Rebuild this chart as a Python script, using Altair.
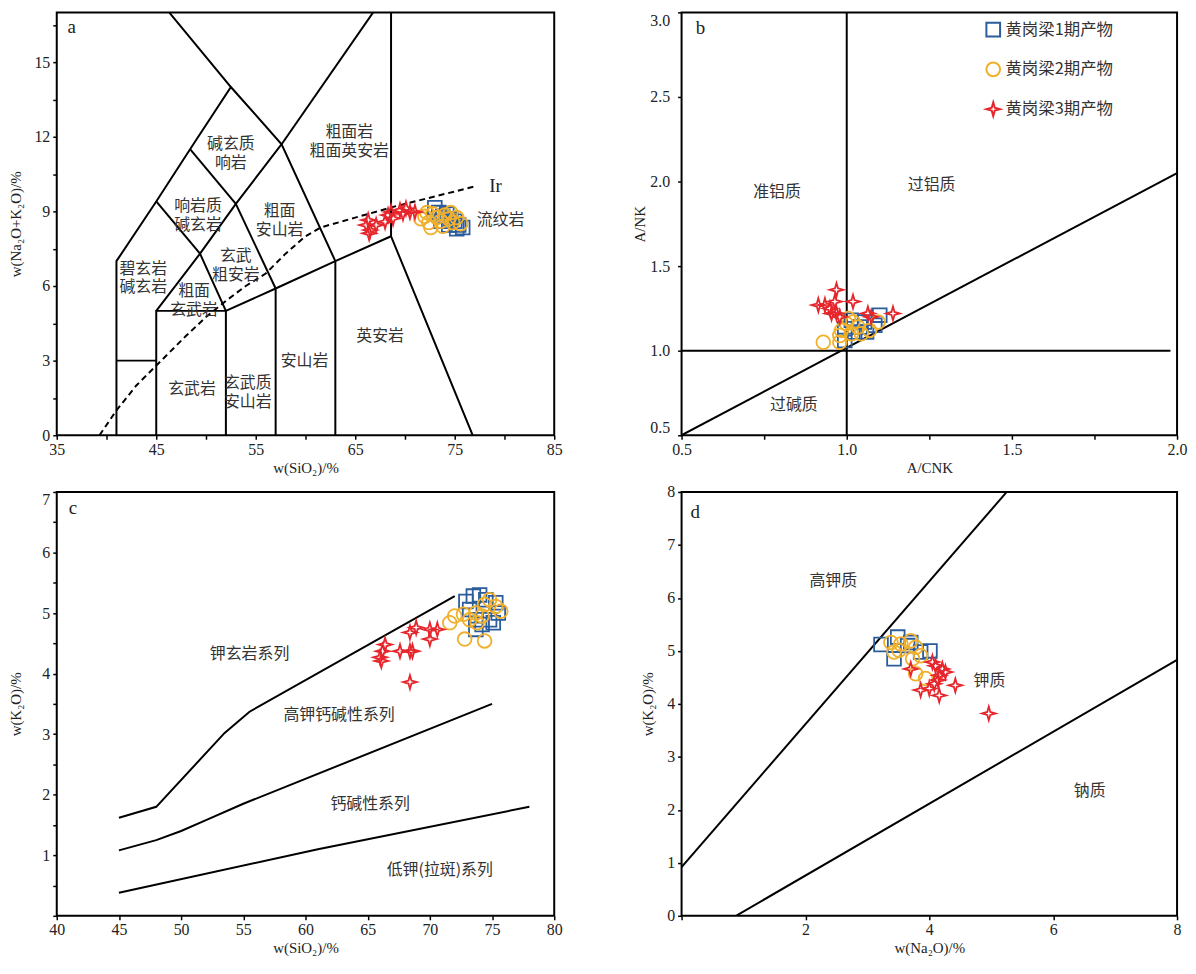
import altair as alt
import pandas as pd

BLUE = "#2b5c9c"
ORANGE = "#f0b02c"
RED = "#e6262c"
G1, G2, G3 = "黄岗梁1期产物", "黄岗梁2期产物", "黄岗梁3期产物"
STAR = "M0,-1L0.22,-0.22L1,0L0.22,0.22L0,1L-0.22,0.22L-1,0L-0.22,-0.22Z"
SERIF = "Liberation Serif"
CJK = "Noto Sans CJK SC"

# ---------------- panel a : TAS ----------------
TAS_LINES = [
    [(41, 0), (41, 7), (45, 9.4), (48.4, 11.5), (52.5, 14), (46.3, 17.0)],
    [(52.5, 14), (57.6, 11.7), (63, 7)],
    [(57.6, 11.7), (66.8, 17.0)],
    [(68.6, 17.0), (68.6, 8.0), (76.8, 0)],
    [(63, 0), (63, 7), (68.6, 8.0)],
    [(57, 0), (57, 5.9), (63, 7)],
    [(52, 0), (52, 5), (57, 5.9)],
    [(45, 0), (45, 5), (52, 5)],
    [(41, 3), (45, 3)],
    [(45, 5), (49.4, 7.3), (52, 5)],
    [(49.4, 7.3), (53, 9.3), (57.6, 11.7)],
    [(53, 9.3), (57, 5.9)],
    [(45, 9.4), (49.4, 7.3)],
    [(48.4, 11.5), (53, 9.3)],
]
IR_LINE = [[(39.3, 0), (41, 1.0), (43, 2.0), (45, 2.8), (48, 4.0), (50, 4.75), (52, 5.4),
            (54, 6.0), (56, 6.5), (58, 7.3), (60, 8.0), (61.5, 8.35), (65, 8.75),
            (69, 9.2), (73, 9.6), (77, 10.0)]]
A_LABEL_TEXT = ["碱玄质\n响岩", "粗面岩\n粗面英安岩", "响岩质\n碱玄岩", "粗面\n安山岩", "玄武\n粗安岩",
                "碧玄岩\n碱玄岩", "粗面\n玄武岩", "英安岩", "安山岩", "玄武岩", "玄武质\n安山岩", "流纹岩"]
A_LABEL_X = [52.5, 64.4, 49.2, 57.4, 53.0, 43.7, 48.8, 67.5, 59.9, 48.6, 54.2, 79.6]
A_LABEL_Y = [11.7, 12.2, 9.2, 9.0, 7.2, 6.7, 5.8, 4.0, 3.0, 1.85, 2.1, 8.64]
A_SERIF_TEXT = ["a", "Ir"]
A_SERIF_X = [36.5, 79.1]
A_SERIF_Y = [16.4, 10.0]

A1_SIO2 = [73.0, 73.4, 73.8, 74.2, 74.6, 75.0, 75.4, 75.8, 73.6, 74.4, 75.2]
A1_ALK = [9.15, 8.95, 8.80, 8.90, 8.70, 8.60, 8.45, 8.35, 8.60, 8.45, 8.30]
A2_SIO2 = [71.6, 72.0, 72.4, 72.8, 73.2, 73.6, 74.0, 74.4, 74.8, 75.2, 75.6, 72.6, 73.8, 74.6, 72.2]
A2_ALK = [8.70, 8.80, 8.55, 8.90, 8.75, 8.60, 8.85, 8.70, 8.55, 8.75, 8.50, 8.35, 8.40, 8.95, 8.95]
A3_SIO2 = [66.3, 66.1, 66.5, 67.1, 68.0, 68.3, 68.6, 68.8, 69.5, 69.8, 70.1, 70.5, 71.0, 66.4]
A3_ALK = [8.65, 8.45, 8.25, 8.45, 8.58, 8.85, 8.98, 8.72, 9.05, 8.92, 9.12, 8.98, 8.98, 8.12]

# ---------------- panel b : A/NK vs A/CNK ----------------
B_LINES = [
    [(1.0, 0.5), (1.0, 3.0)],
    [(0.5, 1.0), (1.98, 1.0)],
    [(0.5, 0.5), (2.0, 2.05)],
]
B_LABEL_TEXT = ["准铝质", "过铝质", "过碱质"]
B_LABEL_X = [0.789, 1.257, 0.84]
B_LABEL_Y = [1.94, 1.98, 0.68]
B_SERIF_TEXT = ["b"]
B_SERIF_X = [0.557]
B_SERIF_Y = [2.91]
B1_ACNK = [1.10, 1.054, 0.994, 1.024, 1.06, 1.085, 0.994, 1.014, 1.04]
B1_ANK = [1.21, 1.17, 1.13, 1.11, 1.11, 1.15, 1.06, 1.18, 1.14]
B2_ACNK = [0.929, 0.979, 0.984, 0.999, 1.019, 1.034, 1.014, 1.044, 1.069, 1.095, 0.979, 1.005]
B2_ANK = [1.05, 1.05, 1.12, 1.16, 1.17, 1.14, 1.10, 1.10, 1.12, 1.17, 1.09, 1.19]
B3_ACNK = [0.969, 0.914, 0.934, 0.949, 0.954, 0.969, 0.979, 1.019, 0.964, 1.064, 1.074, 1.14]
B3_ANK = [1.36, 1.27, 1.27, 1.25, 1.22, 1.22, 1.20, 1.29, 1.29, 1.22, 1.20, 1.22]

# ---------------- panel c : K2O vs SiO2 ----------------
C_LINES = [
    [(45, 1.62), (48, 1.80), (53.5, 3.02), (55.5, 3.37), (72, 5.28)],
    [(45, 1.08), (48, 1.25), (50, 1.40), (52, 1.58), (55, 1.85), (75, 3.50)],
    [(45, 0.38), (61, 1.10), (78, 1.80)],
]
C_LABEL_TEXT = ["钾玄岩系列", "高钾钙碱性系列", "钙碱性系列", "低钾(拉斑)系列"]
C_LABEL_X = [55.5, 62.7, 65.2, 70.8]
C_LABEL_Y = [4.32, 3.32, 1.84, 0.76]
C_SERIF_TEXT = ["c"]
C_SERIF_X = [41.3]
C_SERIF_Y = [6.74]
C1_SIO2 = [72.9, 73.5, 74.0, 74.5, 75.3, 75.5, 73.2, 73.7, 74.2, 73.7, 74.8, 75.1]
C1_K2O = [5.19, 5.28, 5.30, 5.22, 5.17, 5.00, 5.06, 4.89, 4.81, 4.73, 4.89, 4.84]
C2_SIO2 = [71.6, 72.0, 72.7, 73.2, 73.7, 74.4, 74.8, 75.3, 75.7, 74.2, 72.8, 74.4, 73.8]
C2_K2O = [4.84, 4.95, 4.98, 4.89, 5.00, 5.14, 5.22, 5.11, 5.03, 4.95, 4.57, 4.54, 4.84]
C3_SIO2 = [68.4, 68.9, 70.0, 70.6, 70.0, 66.4, 66.2, 66.0, 66.1, 67.6, 68.4, 68.6, 68.4]
C3_K2O = [4.68, 4.76, 4.73, 4.73, 4.57, 4.48, 4.37, 4.27, 4.21, 4.37, 4.37, 4.37, 3.86]

# ---------------- panel d : K2O vs Na2O ----------------
D_LINES = [
    [(0, 0.92), (5.25, 8.0)],
    [(0.88, 0), (8.0, 4.83)],
]
D_LABEL_TEXT = ["高钾质", "钾质", "钠质"]
D_LABEL_X = [2.45, 4.97, 6.59]
D_LABEL_Y = [6.32, 4.44, 2.35]
D_SERIF_TEXT = ["d"]
D_SERIF_X = [0.22]
D_SERIF_Y = [7.63]
D1_NA2O = [3.22, 3.49, 3.43, 4.01, 3.70, 3.86, 3.65]
D1_K2O = [5.12, 5.26, 4.85, 5.00, 5.16, 4.98, 5.10]
D2_NA2O = [3.38, 3.51, 3.70, 3.78, 3.73, 3.86, 3.78, 3.94, 3.43, 3.54]
D2_K2O = [5.16, 5.01, 5.19, 5.07, 4.85, 4.91, 4.57, 4.48, 4.98, 5.13]
D3_NA2O = [3.86, 4.16, 4.42, 4.08, 4.16, 4.10, 4.21, 4.26, 4.05, 3.70, 4.00, 4.96, 4.14]
D3_K2O = [4.26, 4.16, 4.35, 4.38, 4.54, 4.72, 4.66, 4.60, 4.79, 4.66, 4.29, 3.82, 4.45]


def lines_df(polys):
    rows = []
    for i, p in enumerate(polys):
        for j, (x, y) in enumerate(p):
            rows.append({"seg": i, "ord": j, "x": x, "y": y})
    return pd.DataFrame(rows)


def text_df(t, x, y):
    return pd.DataFrame({"t": t, "x": x, "y": y})


def points_df(g1, g2, g3):
    frames = []
    for name, (xs, ys) in zip([G1, G2, G3], [g1, g2, g3]):
        frames.append(pd.DataFrame({"x": xs, "y": ys, "g": name}))
    return pd.concat(frames, ignore_index=True)


def axis(title, values, label_expr=None, fmt=None, lp=3, tp=4, flush=False):
    kw = dict(title=title, values=values, grid=False, domain=False, tickSize=4,
              tickColor="black", tickWidth=1.5, labelFont=SERIF, labelFontSize=16,
              labelColor="#222", titleFont=SERIF, titleFontSize=15, titleColor="#222",
              titleFontWeight="normal", labelPadding=lp, titlePadding=tp, labelFlush=flush)
    if label_expr:
        kw["labelExpr"] = label_expr
    if fmt:
        kw["format"] = fmt
    return alt.Axis(**kw)


def panel(solid, dashed, labels, serif, pts, xdom, ydom, xax, yax, w, h, legend):
    xs = alt.X("x:Q", scale=alt.Scale(domain=xdom, nice=False, zero=False), axis=xax)
    ys = alt.Y("y:Q", scale=alt.Scale(domain=ydom, nice=False, zero=False), axis=yax)
    layers = [alt.Chart(lines_df(solid)).mark_line(color="black", strokeWidth=2, clip=True)
              .encode(x=xs, y=ys, detail="seg:N", order="ord:Q")]
    if dashed:
        layers.append(alt.Chart(lines_df(dashed)).mark_line(color="black", strokeWidth=2,
                                                            strokeDash=[6, 4], clip=True)
                      .encode(x=xs, y=ys, detail="seg:N", order="ord:Q"))
    layers.append(alt.Chart(labels).mark_text(font=CJK, fontSize=16, color="#333",
                                              lineBreak="\n", lineHeight=19)
                  .encode(x=xs, y=ys, text="t:N"))
    layers.append(alt.Chart(serif).mark_text(font=SERIF, fontSize=19, color="#222")
                  .encode(x=xs, y=ys, text="t:N"))
    leg = None
    if legend:
        leg = alt.Legend(title=None, orient="none", legendX=305, legendY=9,
                         labelFont=CJK, labelFontSize=16.5, labelColor="#333",
                         symbolSize=160, symbolStrokeWidth=2, rowPadding=17, labelOffset=4)
    layers.append(alt.Chart(pts).mark_point(filled=False, strokeWidth=1.8, opacity=1)
                  .encode(x=xs, y=ys,
                          color=alt.Color("g:N", scale=alt.Scale(domain=[G1, G2, G3],
                                                                 range=[BLUE, ORANGE, RED]),
                                          legend=leg),
                          shape=alt.Shape("g:N", scale=alt.Scale(domain=[G1, G2, G3],
                                                                 range=["square", "circle", STAR]),
                                          legend=leg),
                          size=alt.Size("g:N", scale=alt.Scale(domain=[G1, G2, G3],
                                                               range=[190, 190, 150]),
                                        legend=None)))
    return alt.layer(*layers).properties(width=w, height=h)


pa = panel(TAS_LINES, IR_LINE, text_df(A_LABEL_TEXT, A_LABEL_X, A_LABEL_Y),
           text_df(A_SERIF_TEXT, A_SERIF_X, A_SERIF_Y),
           points_df((A1_SIO2, A1_ALK), (A2_SIO2, A2_ALK), (A3_SIO2, A3_ALK)),
           [35, 85], [0, 17],
           axis("w(SiO₂)/%", list(range(35, 86, 5)), "datum.value % 10 == 5 ? datum.label : ''",
                lp=2, tp=3),
           axis("w(Na₂O+K₂O)/%", [i * 1.5 for i in range(12)],
                "datum.value % 3 == 0 ? datum.label : ''", lp=3, tp=10),
           500, 425, False)

pb = panel(B_LINES, None, text_df(B_LABEL_TEXT, B_LABEL_X, B_LABEL_Y),
           text_df(B_SERIF_TEXT, B_SERIF_X, B_SERIF_Y),
           points_df((B1_ACNK, B1_ANK), (B2_ACNK, B2_ANK), (B3_ACNK, B3_ANK)),
           [0.5, 2.0], [0.5, 3.0],
           axis("A/CNK", [0.5, 0.75, 1.0, 1.25, 1.5, 1.75, 2.0],
                "(datum.value * 2) % 1 == 0 ? format(datum.value, '.1f') : ''", lp=2, tp=3),
           axis("A/NK", [0.5, 1.0, 1.5, 2.0, 2.5, 3.0], None, ".1f", lp=8, tp=2, flush=True),
           498, 425, True)

pc = panel(C_LINES, None, text_df(C_LABEL_TEXT, C_LABEL_X, C_LABEL_Y),
           text_df(C_SERIF_TEXT, C_SERIF_X, C_SERIF_Y),
           points_df((C1_SIO2, C1_K2O), (C2_SIO2, C2_K2O), (C3_SIO2, C3_K2O)),
           [40, 80], [0, 7],
           axis("w(SiO₂)/%", list(range(40, 81, 5)), lp=2, tp=3),
           axis("w(K₂O)/%", [i * 0.5 for i in range(15)],
                "datum.value >= 1 && datum.value % 1 == 0 ? format(datum.value, 'd') : ''",
                lp=3, tp=18, flush=True),
           500, 426, False)

pd_ = panel(D_LINES, None, text_df(D_LABEL_TEXT, D_LABEL_X, D_LABEL_Y),
            text_df(D_SERIF_TEXT, D_SERIF_X, D_SERIF_Y),
            points_df((D1_NA2O, D1_K2O), (D2_NA2O, D2_K2O), (D3_NA2O, D3_K2O)),
            [0, 8], [0, 8],
            axis("w(Na₂O)/%", [0, 2, 4, 6, 8], "datum.value > 0 ? datum.label : ''", lp=2, tp=3),
            axis("w(K₂O)/%", list(range(0, 9)), lp=3, tp=11),
            498, 426, False)

chart = (alt.concat(pa, pb, pc, pd_, columns=2, spacing={"row": 7, "column": 69})
         .resolve_scale(color="independent", shape="independent", size="independent")
         .properties(padding=0)
         .configure_view(stroke="black", strokeWidth=2))

chart.save("out.html", embed_options={"renderer": "svg", "actions": False})
